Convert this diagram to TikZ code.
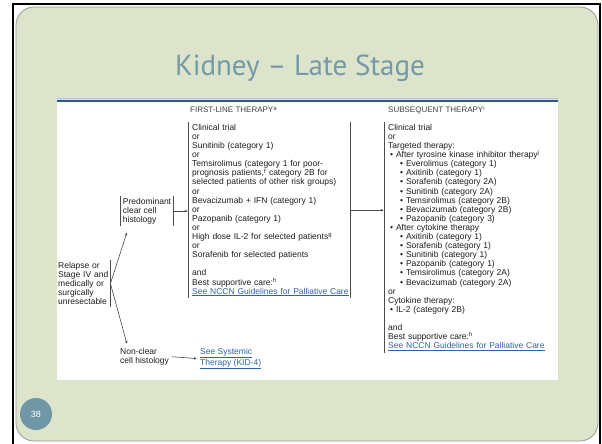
\documentclass[tikz,border=0pt]{standalone}
\usepackage{fontspec}
\setmainfont{Liberation Sans}
\newfontfamily\titlefont{PT Sans}
\usetikzlibrary{arrows.meta}
\definecolor{slidegreen}{HTML}{DDE4CC}
\definecolor{titleblue}{HTML}{7599A7}
\definecolor{linkblue}{HTML}{2F62AE}
\definecolor{bandblue}{HTML}{2C5A8E}
\definecolor{txtgray}{HTML}{1E1E1E}
\definecolor{pageblue}{HTML}{6F97A6}
\newcommand{\nccnlink}[1]{\textcolor{linkblue}{\underline{#1}}}

\begin{document}
\begin{tikzpicture}[x=1pt, y=-1pt]
        \tikzstyle{blk} = [draw, black!70, line width=0.6pt]
        \tikzstyle{arr} = [blk, -{Latex[length=3pt, width=2.6pt]}]
        \tikzstyle{txt} = [align=left, inner sep=0pt, text=txtgray, font=\fontsize{8.5}{9.1}\selectfont]
        \tikzstyle{hdr} = [anchor=west, inner sep=0pt, text=txtgray!85, font=\fontsize{8}{9}\selectfont]

        \useasboundingbox (0, 0) rectangle (602, 444);
        \fill[white] (0, 0) rectangle (602, 444);
        \draw[black, line width=2.5pt] (13, 444) -- (13, 4) -- (600, 4) -- (600, 444);
        \draw[gray!80, fill=slidegreen, line width=0.8pt, rounded corners=18pt] (16, 7) rectangle (598, 441);
        \fill[white] (57, 100) rectangle (558, 380);
        \draw[bandblue!35, line width=0.8pt] (57, 98.6) -- (558, 98.6);
        \draw[bandblue, line width=2pt] (57, 100.8) -- (558, 100.8);

        \node[text=titleblue, font=\titlefont\fontsize{29}{32}\selectfont] (title) at (300, 68) {Kidney – Late Stage};

        \node[hdr] (hfirst) at (190, 110) {FIRST-LINE THERAPY\textsuperscript{a}};
        \node[hdr] (hsub) at (388, 110) {SUBSEQUENT THERAPY\textsuperscript{i}};

        \node[txt, anchor=north west, inner xsep=4pt, inner ysep=2pt, text width=154pt] (first) at (188, 122) {Clinical trial\\ or\\ Sunitinib (category 1)\\ or\\ Temsirolimus (category 1 for poor-\\ prognosis patients,\textsuperscript{f} category 2B for\\ selected patients of other risk groups)\\ or\\ Bevacizumab + IFN (category 1)\\ or\\ Pazopanib (category 1)\\ or\\ High dose IL-2 for selected patients\textsuperscript{g}\\ or\\ Sorafenib for selected patients\\[9.1pt] and\\ Best supportive care:\textsuperscript{h}\\ \nccnlink{See NCCN Guidelines for Palliative Care}};

        \node[txt, anchor=north west, inner xsep=4pt, inner ysep=2pt, text width=168pt] (sub) at (384, 122) {Clinical trial\\ or\\ Targeted therapy:\\ \hspace*{2pt}\textbullet\ After tyrosine kinase inhibitor therapy\textsuperscript{j}\\ \hspace*{12pt}\textbullet\ Everolimus (category 1)\\ \hspace*{12pt}\textbullet\ Axitinib (category 1)\\ \hspace*{12pt}\textbullet\ Sorafenib (category 2A)\\ \hspace*{12pt}\textbullet\ Sunitinib (category 2A)\\ \hspace*{12pt}\textbullet\ Temsirolimus (category 2B)\\ \hspace*{12pt}\textbullet\ Bevacizumab (category 2B)\\ \hspace*{12pt}\textbullet\ Pazopanib (category 3)\\ \hspace*{2pt}\textbullet\ After cytokine therapy\\ \hspace*{12pt}\textbullet\ Axitinib (category 1)\\ \hspace*{12pt}\textbullet\ Sorafenib (category 1)\\ \hspace*{12pt}\textbullet\ Sunitinib (category 1)\\ \hspace*{12pt}\textbullet\ Pazopanib (category 1)\\ \hspace*{12pt}\textbullet\ Temsirolimus (category 2A)\\ \hspace*{12pt}\textbullet\ Bevacizumab (category 2A)\\ or\\ Cytokine therapy:\\ \hspace*{2pt}\textbullet\ IL-2 (category 2B)\\[9.1pt] and\\ Best supportive care:\textsuperscript{h}\\ \nccnlink{See NCCN Guidelines for Palliative Care}};

        \node[txt, inner xsep=2pt, inner ysep=2pt] (pred) at (147, 211) {Predominant\\ clear cell\\ histology};
        \node[txt, anchor=north west, inner xsep=1pt, inner ysep=2pt, text width=51pt] (relapse) at (57, 260) {Relapse or\\ Stage IV and\\ medically or\\ surgically\\ unresectable};
        \node[txt, anchor=north west] (nonclear) at (120, 348) {Non-clear\\ cell histology};
        \node[txt, anchor=north west] (seesys) at (200, 348) {\nccnlink{See Systemic}\\ \nccnlink{Therapy (KID-4)}};

        \node[circle, fill=pageblue, minimum size=32pt, inner sep=0pt, text=white, font=\fontsize{9}{10}\selectfont] (page) at (36, 414) {38};

        \path[blk] (pred.north west) to (pred.south west);
        \path[blk] (pred.north east) to (pred.south east);
        \path[blk] (relapse.north east) to (relapse.south east);
        \path[blk] (first.north west) to (first.south west);
        \path[blk] (first.north east) to (first.south east);
        \path[blk] (sub.north west) to (sub.south west);

        \path[arr] (relapse.east) to ([shift={(-20, 6)}]pred.south);
        \path[arr] (relapse.east) to ([shift={(7, -4)}]nonclear.north west);
        \path[arr] (pred.east) to (pred.east -| first.west);
        \path[arr] (first.east) to (first.east -| sub.west);
        \path[arr] ([xshift=3pt]nonclear.east) to ([xshift=-3pt]seesys.west);
    \end{tikzpicture}
\end{document}
